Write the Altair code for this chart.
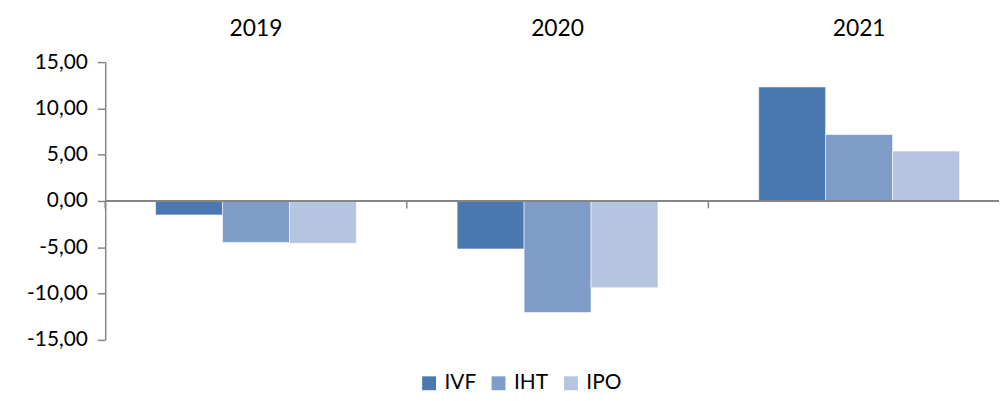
import altair as alt
import pandas as pd

years = ["2019", "2020", "2021"]
series = ["IVF", "IHT", "IPO"]
ivf = [-1.50, -5.18, 12.32]
iht = [-4.47, -12.04, 7.18]
ipo = [-4.57, -9.36, 5.39]
colors = ["#4A78B0", "#7F9CC8", "#B5C4DF"]
y_ticks = [-15, -10, -5, 0, 5, 10, 15]

rows = []
for s, vals in zip(series, [ivf, iht, ipo]):
    for yr, v in zip(years, vals):
        rows.append({"year": yr, "series": s, "value": v})
df = pd.DataFrame(rows)
yrs = pd.DataFrame({"year": years})

FONT = "Lato"
GREY = "#868686"
W, H = 912, 280

xscale = alt.Scale(domain=years, paddingInner=0.334, paddingOuter=0.167)
yscale = alt.Scale(domain=[-15, 15], nice=False, zero=False)

bars = alt.Chart(df).mark_bar(stroke="white", strokeWidth=0.8, strokeOpacity=0.7).encode(
    x=alt.X("year:N", scale=xscale, sort=years, title=None,
            axis=alt.Axis(orient="top", domain=False, ticks=False, grid=False, labelAngle=0,
                          labelFont=FONT, labelFontSize=23, labelColor="#000000",
                          labelBaseline="alphabetic", labelPadding=27)),
    xOffset=alt.XOffset("series:N", sort=series,
                        scale=alt.Scale(domain=series, paddingInner=0, paddingOuter=0)),
    y=alt.Y("value:Q", scale=yscale, title=None,
            axis=alt.Axis(values=y_ticks, grid=False, domainColor=GREY, domainWidth=1.5,
                          tickColor=GREY, tickWidth=1.5, tickSize=8,
                          labelFont=FONT, labelFontSize=21, labelColor="#000000",
                          labelPadding=10,
                          labelExpr="replace(replace(format(datum.value, '.2f'), '.', ','), '\u2212', '-')")),
    color=alt.Color("series:N", sort=series,
                    scale=alt.Scale(domain=series, range=colors),
                    legend=alt.Legend(title=None, orient="none", direction="horizontal",
                                      legendX=316, legendY=313, symbolType="square",
                                      symbolSize=196, symbolStrokeWidth=0,
                                      labelFont=FONT, labelFontSize=21, labelColor="#000000",
                                      labelOffset=5, columnPadding=12, padding=0)),
)

zero = alt.Chart(yrs).mark_rule(color=GREY, strokeWidth=2).encode(
    x=alt.value(0), x2=alt.value(W), y=alt.datum(0)
)

seps = alt.Chart(yrs).mark_rule(color=GREY, strokeWidth=1.5, xOffset=-50.75).encode(
    x=alt.X("year:N", scale=xscale, sort=years, bandPosition=0),
    y=alt.datum(0, scale=yscale),
    y2=alt.datum(-0.8),
)

chart = alt.layer(bars, zero, seps).properties(
    width=W, height=H,
    autosize=alt.AutoSizeParams(type="none"),
    padding={"left": 98, "top": 53, "right": -11, "bottom": 52},
).configure(background="white").configure_view(stroke=None)

chart.save("out.html", embed_options={"renderer": "svg", "actions": False})
